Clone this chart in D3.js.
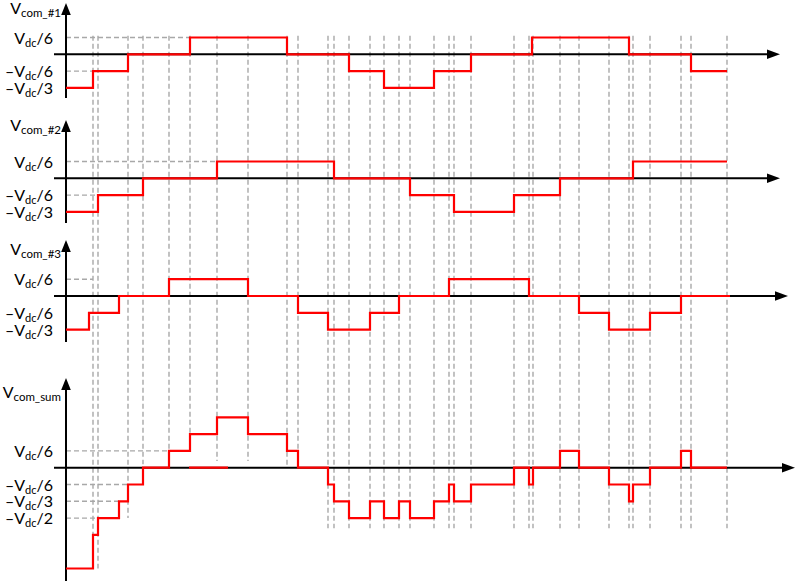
<!DOCTYPE html>
<html>
<head>
<meta charset="utf-8">
<script src="https://cdn.jsdelivr.net/npm/d3@7"></script>
<style>
  body { margin: 0; background: #fff; }
  svg { display: block; font-family: Lato, 'Open Sans', sans-serif; }
</style>
</head>
<body>
<div id="chart"></div>
<script>
// SWITCHING INSTANTS (DASHED GRID), MEASURED FROM THE VERTICAL AXIS
var switchTimes = [27, 32, 62, 77, 103, 124, 151, 182, 221, 232, 262, 268, 283, 304, 318, 333, 344,
   368, 383, 388, 405, 448, 463, 467, 494, 513, 543, 563, 567, 584, 615, 625, 661];

// HOW FAR DOWN EACH DASHED LINE GOES, IN VDC/6 STEPS OF THE SUM PANEL
var switchDepth = [-6, -6, -3, 0.2, 1, 2, 0.4, 0.4, 0, 0, -3.6, -3.6, -3.6, -3.6, -3.6, -3.6, -3.6,
   -3.6, -3.6, -3.6, -3.6, -3.6, -3.6, -3.6, -3.6, -3.6, -3.6, -3.6, -3.6, -3.6, -3.6, -3.6, -3.6];

// COMMON MODE VOLTAGES -- EDGES IN TIME, LEVELS IN VDC/6 STEPS
var com1Edges = [0, 27, 62, 124, 221, 283, 318, 368, 405, 466, 563, 625, 661];
var com1Levels = [-2, -1, 0, 1, 0, -1, -2, -1, 0, 1, 0, -1];

var com2Edges = [0, 32, 77, 151, 268, 344, 388, 448, 494, 567, 661];
var com2Levels = [-2, -1, 0, 1, 0, -1, -2, -1, 0, 1];

var com3Edges = [0, 23, 53, 103, 182, 232, 262, 304, 333, 383, 463, 513, 543, 584, 615, 664];
var com3Levels = [-2, -1, 0, 1, 0, -1, -2, -1, 0, 1, 0, -1, -2, -1, 0];

var sumEdges = [0, 27, 32, 53, 62, 77, 103, 124, 151, 182, 221, 232, 262, 268, 283, 304, 318, 333,
   344, 368, 383, 388, 405, 448, 463, 467, 494, 513, 543, 563, 567, 584, 615, 625, 661];
var sumLevels = [-6, -4, -3, -2, -1, 0, 1, 2, 3, 2, 1, 0, -1, -2, -3, -2, -3, -2, -3, -2, -1, -2,
   -1, 0, -1, 0, 1, 0, -1, -2, -1, 0, 1, 0];

// STRAY RED PIECE LEFT ON THE ZERO LINE OF THE SUM PANEL
var sumStray = [123, 162];

// DASHED LEVEL GUIDES [LEVEL, END TIME]
var com1Guides = [[1, 124], [-1, 27]];
var com2Guides = [[1, 151], [-1, 32]];
var com3Guides = [[1, 27]];
var sumGuides = [[1, 103], [-1, 62], [-2, 53], [-3, 32]];

// TICK LEVELS AND LABELS
var tickLevels = [1, -1, -2];
var tickLabels = ['Vdc/6', '\u2013Vdc/6', '\u2013Vdc/3'];
var sumTickLevels = [1, -1, -2, -3];
var sumTickLabels = ['Vdc/6', '\u2013Vdc/6', '\u2013Vdc/3', '\u2013Vdc/2'];

var panelNames = ['com_#1', 'com_#2', 'com_#3', 'com_sum'];

// SETTINGS OBJECT
var settings = {
   width: 796,
   height: 582,
   axisX: 66,
   lineStart: 54,
   unit: 16.8,
   red: '#ff0000',
   dash: '#a8a8a8',
   labelX: 53,
   nameX: 61
};

var panels = [
   { zero: 54.3, top: 3, bottom: 98, arrowEnd: 780, nameY: 14, edges: com1Edges, levels: com1Levels, guides: com1Guides, ticks: tickLevels, labels: tickLabels },
   { zero: 178.3, top: 120, bottom: 223, arrowEnd: 780, nameY: 131, edges: com2Edges, levels: com2Levels, guides: com2Guides, ticks: tickLevels, labels: tickLabels },
   { zero: 296, top: 240, bottom: 342, arrowEnd: 788, nameY: 255, edges: com3Edges, levels: com3Levels, guides: com3Guides, ticks: tickLevels, labels: tickLabels },
   { zero: 467.7, top: 378, bottom: 581, arrowEnd: 795, nameY: 398, edges: sumEdges, levels: sumLevels, guides: sumGuides, ticks: sumTickLevels, labels: sumTickLabels }
];

// X-SCALING -- SHARED BY ALL PANELS
var xScale = d3.scaleLinear()
   .domain([0, 661])
   .range([settings.axisX, settings.axisX + 661]);

// Y-SCALING -- ONE PER PANEL
panels.forEach((p) => {
   p.y = d3.scaleLinear()
      .domain([0, 1])
      .range([p.zero, p.zero - settings.unit]);
});

// GENERATE CANVAS
var svg = d3.select('#chart').append('svg')
   .attr('width', settings.width)
   .attr('height', settings.height);

// VERTICAL DASHED SWITCHING LINES
svg.append('g').selectAll('line').data(switchTimes).enter()
   .append('line')
   .attr('x1', (d) => xScale(d))
   .attr('x2', (d) => xScale(d))
   .attr('y1', panels[0].y(1.1))
   .attr('y2', (d, i) => panels[3].y(switchDepth[i]))
   .attr('stroke', settings.dash)
   .attr('stroke-width', 1.4)
   .attr('stroke-dasharray', '5,3');

// STEP LINE GENERATOR
var stepLine = (p) => d3.line()
   .x((d) => xScale(d[0]))
   .y((d) => p.y(d[1]))
   .curve(d3.curveStepAfter);

panels.forEach((p, k) => {
   var g = svg.append('g');

   // HORIZONTAL DASHED GUIDES
   g.selectAll('.guide').data(p.guides).enter()
      .append('line')
      .attr('x1', settings.axisX)
      .attr('x2', (d) => xScale(d[1]))
      .attr('y1', (d) => p.y(d[0]))
      .attr('y2', (d) => p.y(d[0]))
      .attr('stroke', settings.dash)
      .attr('stroke-width', 1.4)
      .attr('stroke-dasharray', '5,3');

   // AXES
   g.append('line')
      .attr('x1', settings.lineStart).attr('x2', p.arrowEnd - 10)
      .attr('y1', p.y(0)).attr('y2', p.y(0))
      .attr('stroke', '#000').attr('stroke-width', 2);
   g.append('line')
      .attr('x1', settings.axisX).attr('x2', settings.axisX)
      .attr('y1', p.top + 8).attr('y2', p.bottom)
      .attr('stroke', '#000').attr('stroke-width', 2);

   // ARROW HEADS
   g.append('path')
      .attr('d', 'M' + p.arrowEnd + ',' + p.y(0) + 'L' + (p.arrowEnd - 13) + ',' + (p.y(0) - 4.8) + 'L' + (p.arrowEnd - 13) + ',' + (p.y(0) + 4.8) + 'Z')
      .attr('fill', '#000');
   g.append('path')
      .attr('d', 'M' + settings.axisX + ',' + p.top + 'L' + (settings.axisX - 4.8) + ',' + (p.top + 12) + 'L' + (settings.axisX + 4.8) + ',' + (p.top + 12) + 'Z')
      .attr('fill', '#000');

   // TICK LABELS
   p.ticks.forEach((lv, i) => {
      var parts = p.labels[i].split('dc');
      var t = g.append('text')
         .attr('x', settings.labelX)
         .attr('y', p.y(lv) + 6)
         .attr('text-anchor', 'end')
         .attr('font-size', 16)
         .attr('fill', '#000');
      t.append('tspan').text(parts[0]);
      t.append('tspan').attr('font-size', 11).attr('dy', 3).text('dc');
      t.append('tspan').attr('dy', -3).text(parts[1]);
   });

   // PANEL NAME
   var n = g.append('text')
      .attr('x', settings.nameX)
      .attr('y', p.nameY)
      .attr('text-anchor', 'end')
      .attr('font-size', 16)
      .attr('fill', '#000');
   n.append('tspan').text('V');
   n.append('tspan').attr('font-size', 11.5).attr('dy', 3).text(panelNames[k]);

   // RED STEP WAVEFORM
   var pts = p.levels.map((lv, i) => [p.edges[i], lv]);
   pts.push([p.edges[p.edges.length - 1], p.levels[p.levels.length - 1]]);
   g.append('path')
      .attr('d', stepLine(p)(pts))
      .attr('fill', 'none')
      .attr('stroke', settings.red)
      .attr('stroke-width', 2.2);
});

// STRAY PIECE ON SUM ZERO LINE
svg.append('line')
   .attr('x1', xScale(sumStray[0])).attr('x2', xScale(sumStray[1]))
   .attr('y1', panels[3].y(0)).attr('y2', panels[3].y(0))
   .attr('stroke', settings.red)
   .attr('stroke-width', 2.2);
</script>
</body>
</html>
